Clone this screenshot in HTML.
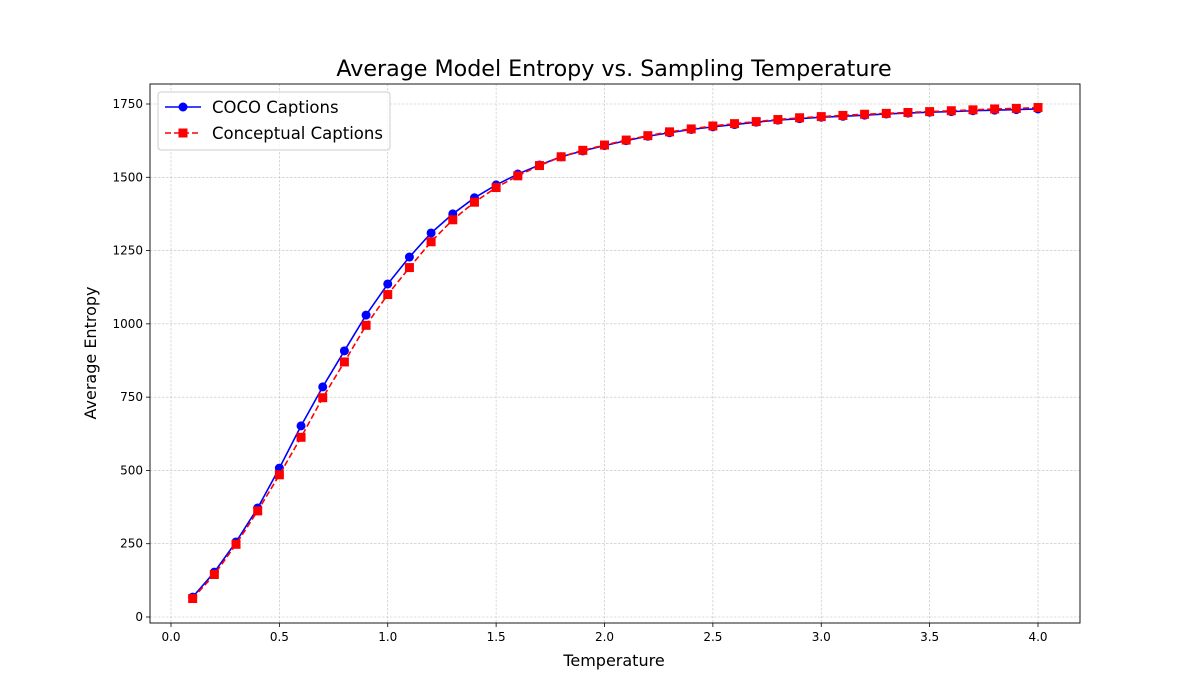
<!DOCTYPE html>
<html><head><meta charset="utf-8"><style>
body{margin:0;background:#fff;}
svg{display:block;font-family:"DejaVu Sans","Liberation Sans",sans-serif;}
</style></head><body>
<svg id="chart" width="1200" height="700"></svg>
<script>
const temps=[0.1,0.2,0.3,0.4,0.5,0.6,0.7,0.8,0.9,1.0,1.1,1.2,1.3,1.4,1.5,1.6,1.7,1.8,1.9,2.0,2.1,2.2,2.3,2.4,2.5,2.6,2.7,2.8,2.9,3.0,3.1,3.2,3.3,3.4,3.5,3.6,3.7,3.8,3.9,4.0];
const coco=[68,153,256,372,508,652,785,908,1030,1136,1228,1310,1375,1430,1474,1511,1542,1570,1590,1608,1625,1640,1652,1663,1672,1680,1688,1695,1700,1705,1708,1712,1716,1719,1722,1724,1727,1729,1731,1733];
const conceptual=[63,145,248,362,485,613,748,870,995,1100,1192,1280,1355,1415,1465,1505,1540,1570,1592,1610,1627,1642,1655,1665,1675,1683,1690,1697,1703,1707,1711,1715,1718,1721,1724,1727,1730,1733,1735,1738];
const xTicks=[0,0.5,1,1.5,2,2.5,3,3.5,4];
const xTickLabels=["0.0","0.5","1.0","1.5","2.0","2.5","3.0","3.5","4.0"];
const yTicks=[0,250,500,750,1000,1250,1500,1750];
const yTickLabels=["0","250","500","750","1000","1250","1500","1750"];

const NS="http://www.w3.org/2000/svg";
const svg=document.getElementById('chart');
const L=150,R=1080,T=84,B=623;
const xs=v=>171+v*(1038-171)/4;
const ys=v=>617-v*(617-104)/1750;
function mk(tag,attrs,parent){const e=document.createElementNS(NS,tag);for(const k in attrs)e.setAttribute(k,attrs[k]);(parent||svg).appendChild(e);return e;}

const t=mk('text',{x:614,y:76,'text-anchor':'middle','font-size':22.2,fill:'#000'});
t.textContent='Average Model Entropy vs. Sampling Temperature';



const grid=mk('g',{});


xTicks.forEach((v,i)=>{
  mk('line',{x1:xs(v),x2:xs(v),y1:T,y2:B,stroke:'#c0c0c0','stroke-width':0.6,'stroke-dasharray':'2.5,1.5'},grid);
  mk('line',{x1:xs(v),x2:xs(v),y1:B,y2:B+4,stroke:'#000','stroke-width':0.8});
  const tx=mk('text',{x:xs(v),y:B+18,'text-anchor':'middle','font-size':12});
  tx.textContent=xTickLabels[i];
  
  
});
yTicks.forEach((v,i)=>{
  mk('line',{x1:L,x2:R,y1:ys(v),y2:ys(v),stroke:'#c0c0c0','stroke-width':0.6,'stroke-dasharray':'2.5,1.5'},grid);
  mk('line',{x1:L-4,x2:L,y1:ys(v),y2:ys(v),stroke:'#000','stroke-width':0.8});
  const tx=mk('text',{x:L-7,y:ys(v)+4,'text-anchor':'end','font-size':12});
  tx.textContent=yTickLabels[i];
  
  
});

function series(vals,color,dash,marker,name){
  const g=mk('g',{});
  
  
  mk('polyline',{points:vals.map((v,i)=>xs(temps[i])+','+ys(v)).join(' '),fill:'none',stroke:color,'stroke-width':1.6,'stroke-dasharray':dash},g);
  vals.forEach((v,i)=>{
    let m;
    if(marker==='o') m=mk('circle',{cx:xs(temps[i]),cy:ys(v),r:4.5,fill:color},g);
    else m=mk('rect',{x:xs(temps[i])-4.5,y:ys(v)-4.5,width:9,height:9,fill:color},g);
    
    
  });
}
series(coco,'#0000ff','none','o','coco-series');
series(conceptual,'#ff0000','6,3','s','conceptual-series');

const frame=mk('rect',{x:L,y:T,width:R-L,height:B-T,fill:'none',stroke:'#000','stroke-width':0.9});



const xl=mk('text',{x:614,y:666,'text-anchor':'middle','font-size':16});
xl.textContent='Temperature';


const yl=mk('text',{x:0,y:0,'text-anchor':'middle','font-size':16,transform:'translate(96,353) rotate(-90)'});
yl.textContent='Average Entropy';



const lg=mk('g',{});


mk('rect',{x:158,y:92,width:232,height:58,rx:3,fill:'#fff','fill-opacity':0.8,stroke:'#ccc'},lg);
mk('line',{x1:165,x2:201,y1:107,y2:107,stroke:'#0000ff','stroke-width':1.6},lg);
mk('circle',{cx:183,cy:107,r:4.5,fill:'#0000ff'},lg);
mk('line',{x1:165,x2:201,y1:133,y2:133,stroke:'#ff0000','stroke-width':1.6,'stroke-dasharray':'6,3'},lg);
mk('rect',{x:178.5,y:128.5,width:9,height:9,fill:'#ff0000'},lg);
const l1=mk('text',{x:212,y:113,'font-size':16.5},lg);l1.textContent='COCO Captions';


const l2=mk('text',{x:212,y:139,'font-size':16.5},lg);l2.textContent='Conceptual Captions';


</script>
</body></html>
